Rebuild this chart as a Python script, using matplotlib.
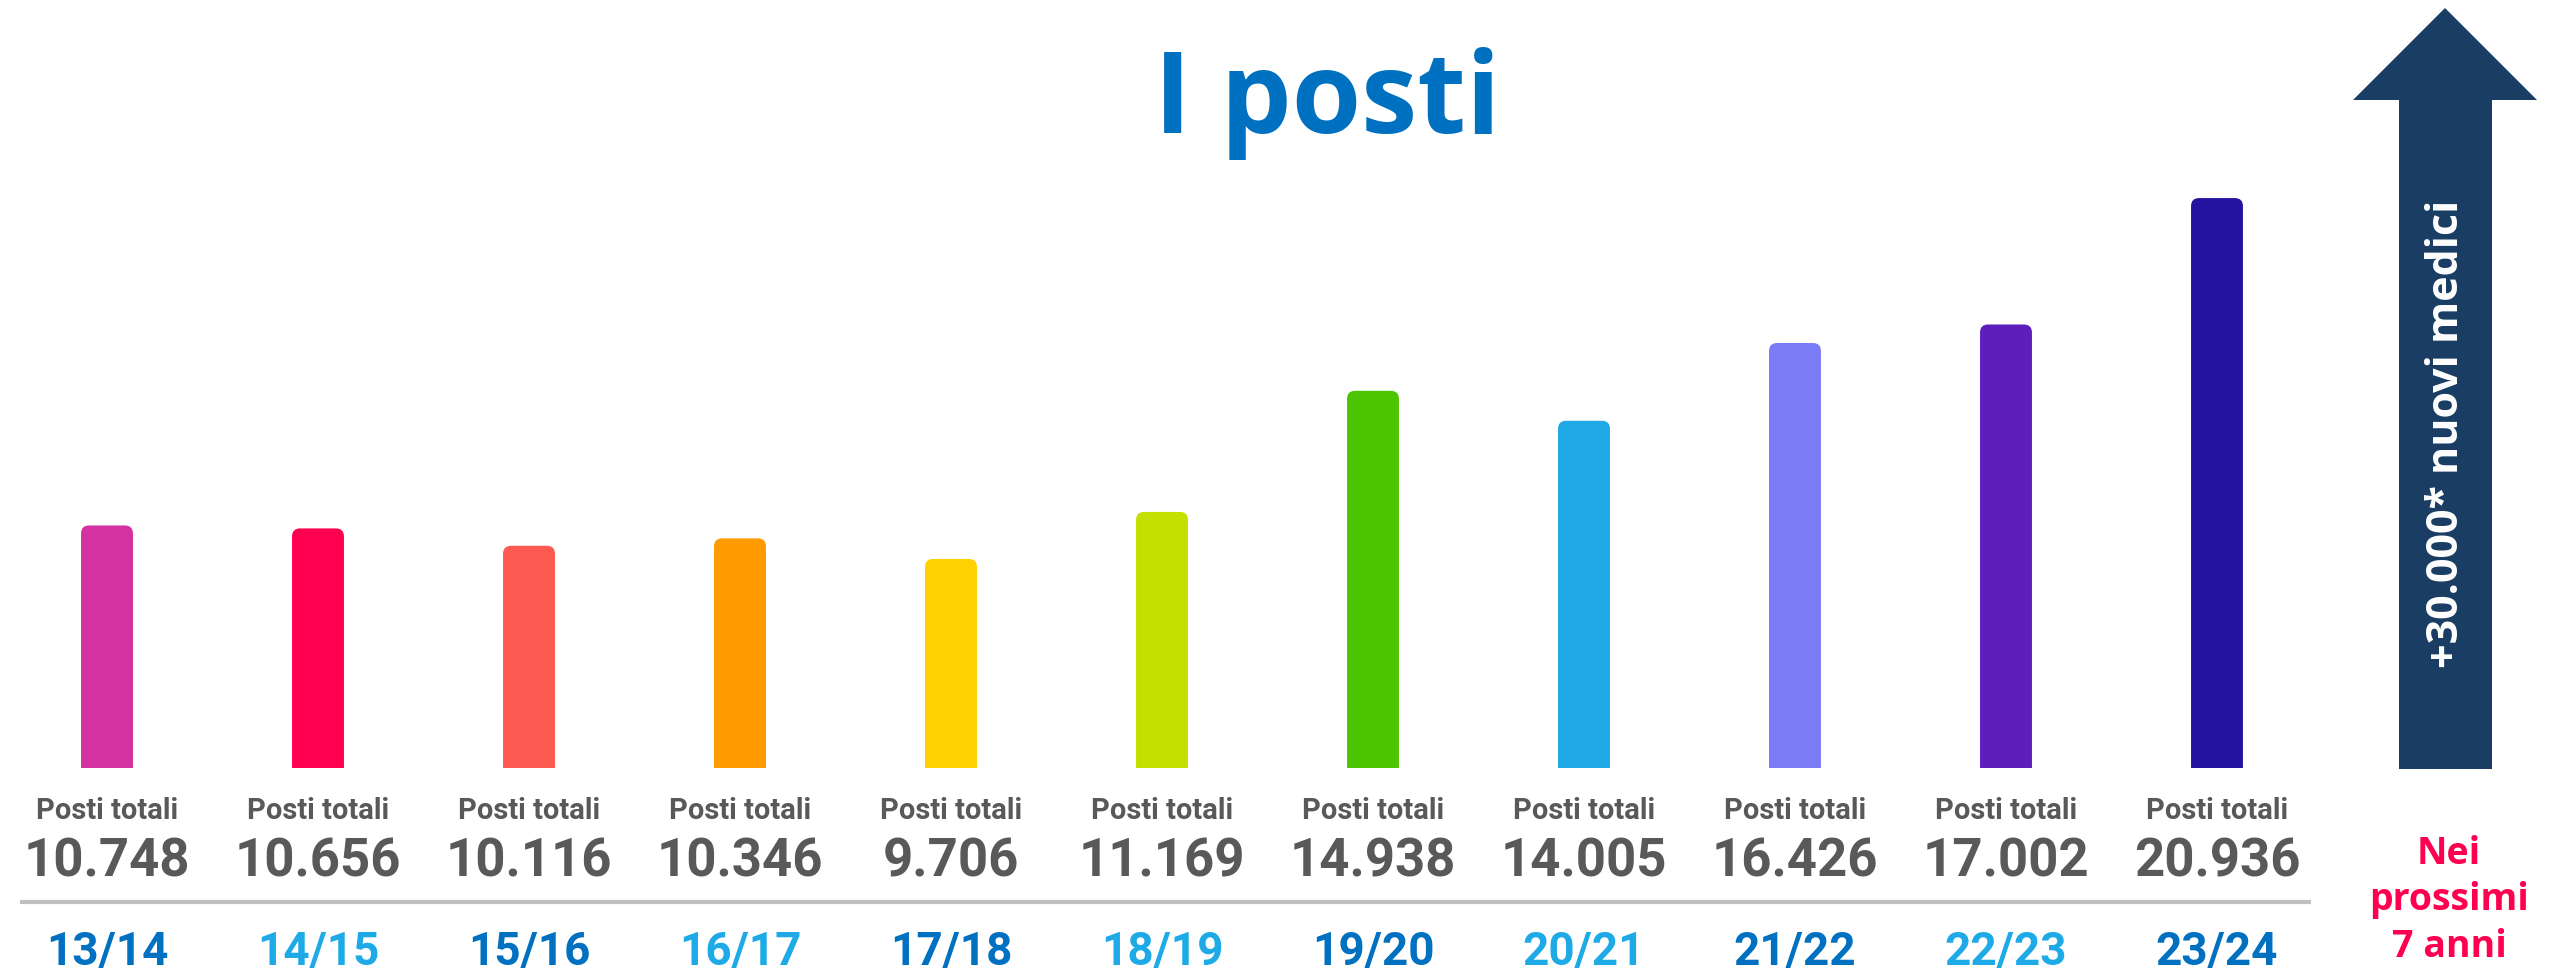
import matplotlib
matplotlib.use("Agg")
import matplotlib.pyplot as plt
from matplotlib.patches import FancyBboxPatch, Polygon
from matplotlib.transforms import blended_transform_factory

# data
years = ["13/14", "14/15", "15/16", "16/17", "17/18", "18/19",
         "19/20", "20/21", "21/22", "22/23", "23/24"]
posti = [10748, 10656, 10116, 10346, 9706, 11169,
         14938, 14005, 16426, 17002, 20936]
bar_colors = ["#D332A0", "#FF0050", "#FF5A52", "#FF9A00", "#FFD100", "#C4E000",
              "#4CC400", "#1EA8E6", "#7A7CF6", "#5E1EBE", "#2313A0"]
title = "I posti"
arrow_text = "+30.000* nuovi medici"
side_note = "Nei\nprossimi\n7 anni"

W, H = 2552, 972
fig = plt.figure(figsize=(W / 100, H / 100), dpi=100)
fig.patch.set_facecolor("white")

# bar axes: bottom of bars at 768 px from top, axis reaches the top of the figure
base_px = 768
ax = fig.add_axes([0, (H - base_px) / H, 1, base_px / H])
ax.set_xlim(-107 / 211, (W - 107) / 211)
ax.set_ylim(3200, 27100)  # truncated value axis, as in the original
ax.axis("off")

x = list(range(len(posti)))
bars = ax.bar(x, posti, width=0.246, color=bar_colors)

# replace plain rectangles by bars with rounded top corners
x_per_px = (ax.get_xlim()[1] - ax.get_xlim()[0]) / W
y_per_px = (ax.get_ylim()[1] - ax.get_ylim()[0]) / base_px
r_px = 8
for b in bars:
    bx, by = b.get_xy()
    bw, bh = b.get_width(), b.get_height()
    extra = 30 * y_per_px
    p = FancyBboxPatch((bx, by - extra), bw, bh + extra,
                       boxstyle=f"round,pad=0,rounding_size={r_px * x_per_px}",
                       mutation_aspect=y_per_px / x_per_px,
                       facecolor=b.get_facecolor(), edgecolor="none")
    b.set_visible(False)
    ax.add_patch(p)

# overlay in pixel coordinates (y from top) for the decorations
ov = fig.add_axes([0, 0, 1, 1], facecolor="none")
ov.set_xlim(0, W)
ov.set_ylim(H, 0)
ov.axis("off")

trans = blended_transform_factory(ax.transData, ov.transData)
for i, (v, yr) in enumerate(zip(posti, years)):
    ax.text(i, 819, "Posti totali", transform=trans, ha="center", va="baseline",
            fontsize=21, fontweight="bold", color="#595959", family="Roboto")
    ax.text(i, 876, f"{v:,}".replace(",", "."), transform=trans, ha="center",
            va="baseline", fontsize=38, fontweight="bold", color="#595959",
            family="Roboto")
    ax.text(i, 965, yr, transform=trans, ha="center", va="baseline",
            fontsize=33, fontweight="bold",
            color="#0070C0" if i % 2 == 0 else "#1EAAE7", family="Roboto")

# grey separator
ov.plot([20, 2311], [902, 902], color="#BFBFBF", lw=3, solid_capstyle="butt")

# title
ov.text(1327, 133, title, ha="center", va="baseline", fontsize=81,
        fontweight="bold", color="#0070C0", family="Open Sans")

# big arrow on the right
arrow = Polygon([(2399, 769), (2399, 100), (2353, 100), (2445, 8),
                 (2537, 100), (2492, 100), (2492, 769)],
                closed=True, facecolor="#193D63", edgecolor="none")
ov.add_patch(arrow)
ov.text(2447, 434, arrow_text, rotation=90, ha="center", va="center",
        fontsize=31, fontweight="bold", color="white", family="Open Sans")

# multi-line note: baseline of the last line
ov.text(2449, 957, side_note, ha="center", va="baseline", fontsize=27,
        fontweight="bold", color="#FF0050", family="Open Sans",
        linespacing=1.3)

fig.savefig("out.png", dpi=100, facecolor="white")
